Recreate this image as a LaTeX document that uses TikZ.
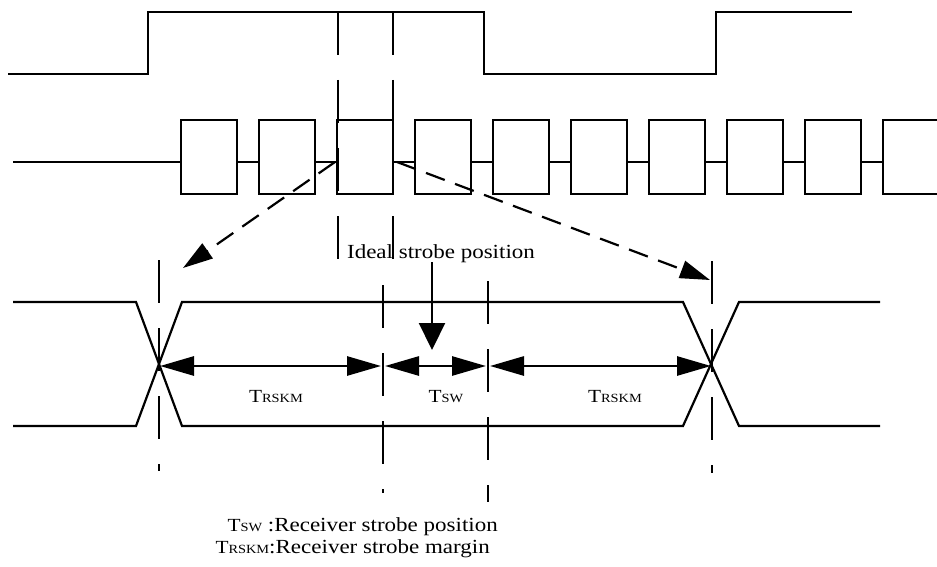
\documentclass[tikz,border=0pt]{standalone}
\usepackage{fontspec}
\setmainfont{Liberation Serif}[FakeStretch=1.15]
\usetikzlibrary{arrows.meta}
\newcommand\lowsc[1]{{\fontsize{12.5}{12.5}\selectfont #1}}
\begin{document}
\begin{tikzpicture}[x=1pt,y=-1pt,
  sig/.style={line width=2.2pt, line join=miter},
  vdash/.style={line width=2.2pt, dash pattern=on 43pt off 25pt},
  dim/.style={line width=2.8pt, {Triangle[length=34pt,width=19pt]}-{Triangle[length=34pt,width=19pt]}},
  darr/.style={line width=2.2pt, dash pattern=on 20pt off 11pt, -{Triangle[length=30pt,width=18pt]}},
  ptr/.style={line width=2.2pt, -{Triangle[length=27pt,width=26pt]}},
  lbl/.style={inner sep=0pt, font=\fontsize{18.5}{20}\selectfont},
  txt/.style={inner sep=0pt, font=\fontsize{20}{24}\selectfont}]
\useasboundingbox (0,0) rectangle (937,567);
% top clock signal
\draw[sig] (8,74) -- (148,74) -- (148,12) -- (484,12) -- (484,74) -- (716,74) -- (716,12) -- (852,12);
% data boxes
\draw[sig] (13,162) -- (181,162);
\foreach \i in {0,...,9} {
  \pgfmathsetmacro\xa{181+78*\i}
  \pgfmathsetmacro\xb{\xa+56}
  \pgfmathsetmacro\xc{\xa+78}
  \draw[sig] (\xa,120) rectangle (\xb,194);
  \ifnum\i<9 \draw[sig] (\xb,162) -- (\xc,162); \fi
}
% strobe dashed verticals through the top
\draw[vdash] (338,12) -- (338,259);
\draw[vdash] (393,12) -- (393,259);
% eye diagram
\draw[sig] (13,302) -- (136,302) -- (182,426) -- (683,426) -- (739,302) -- (880,302);
\draw[sig] (13,426) -- (136,426) -- (182,302) -- (683,302) -- (739,426) -- (880,426);
% vertical dashed lines in eye
\draw[vdash] (159,260) -- (159,471);
\draw[vdash] (383,285) -- (383,493);
\draw[vdash] (488,281) -- (488,502);
\draw[vdash] (712,261) -- (712,473);
% coordinates
\coordinate (c1) at (159,366);
\coordinate (m1) at (383,366);
\coordinate (m2) at (488,366);
\coordinate (c2) at (712,366);
\coordinate (d1s) at (335,162);
\coordinate (d1e) at (183,268);
\coordinate (d2s) at (397,162);
\coordinate (d2e) at (710,280);
\coordinate (ps) at (432,262);
\coordinate (pe) at (432,350);
% dashed arrows
\draw[darr] (d1s) -- (d1e);
\draw[darr] (d2s) -- (d2e);
% dimension arrows
\draw[dim, shorten <=1pt, shorten >=2pt] (c1) -- (m1);
\draw[dim, shorten <=2pt, shorten >=2pt] (m1) -- (m2);
\draw[dim, shorten <=2pt, shorten >=1pt] (m2) -- (c2);
% ideal strobe
\node[txt, anchor=base] (ideal) at (441,258) {Ideal strobe position};
\draw[ptr] (ps) -- (pe);
% labels
\node[lbl, anchor=base] (l1) at (276,402) {T\lowsc{RSKM}};
\node[lbl, anchor=base] (l2) at (446,402) {T\lowsc{SW}};
\node[lbl, anchor=base] (l3) at (615,402) {T\lowsc{RSKM}};
\node[txt, anchor=base east] (n1) at (498,531) {{\fontsize{18.5}{20}\selectfont T\lowsc{SW}} :Receiver strobe position};
\node[txt, anchor=base east] (n2) at (490,553) {{\fontsize{18.5}{20}\selectfont T\lowsc{RSKM}}:Receiver strobe margin};
\end{tikzpicture}
\end{document}
